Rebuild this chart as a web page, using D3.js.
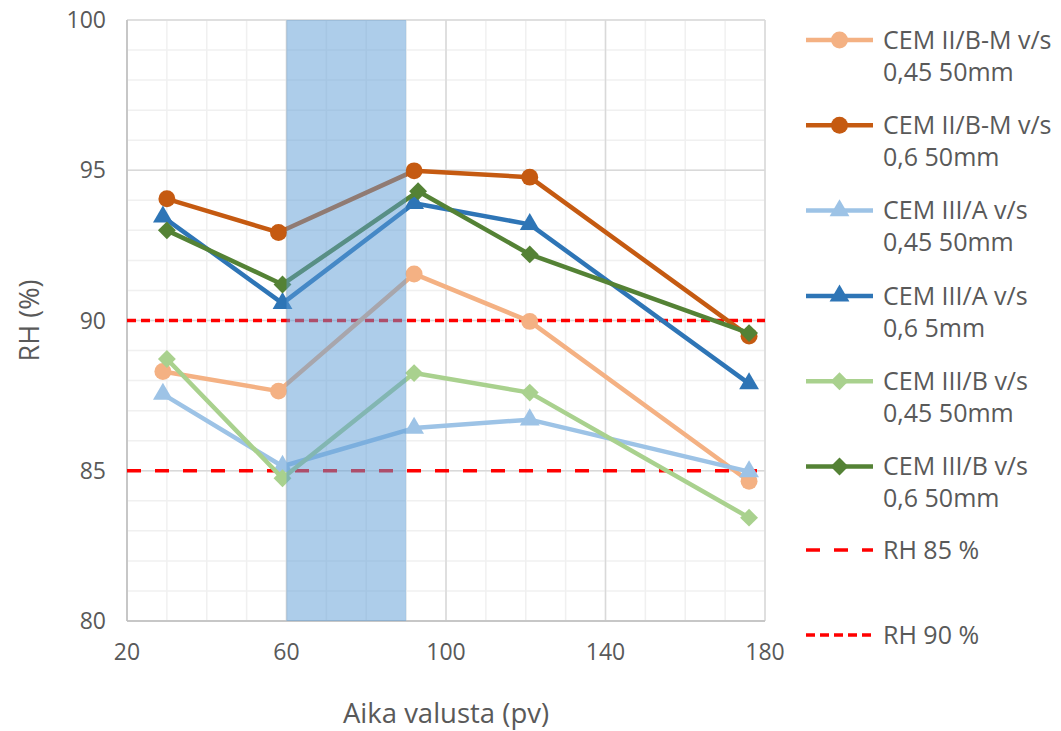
<!DOCTYPE html>
<html>
<head>
<meta charset="utf-8">
<script src="https://cdn.jsdelivr.net/npm/d3@7"></script>
<style>
  body { margin: 0; background: #fff; }
  text { font-family: "Open Sans", "Liberation Sans", sans-serif; fill: #595959; }
</style>
</head>
<body>
<div id="chart"></div>
<script>
// series data
var names = [
    ['CEM II/B-M v/s', '0,45 50mm'],
    ['CEM II/B-M v/s', '0,6 50mm'],
    ['CEM III/A v/s', '0,45 50mm'],
    ['CEM III/A v/s', '0,6 5mm'],
    ['CEM III/B v/s', '0,45 50mm'],
    ['CEM III/B v/s', '0,6 50mm']
]
var xDays = [
    [29, 58, 92, 121, 176],
    [30, 58, 92, 121, 176],
    [29, 59, 92, 121, 176],
    [29, 59, 92, 121, 176],
    [30, 59, 92, 121, 176],
    [30, 59, 93, 121, 176]
]
var rhValues = [
    [88.3, 87.65, 91.55, 89.97, 84.65],
    [94.05, 92.93, 94.98, 94.77, 89.48],
    [87.55, 85.15, 86.42, 86.7, 84.97],
    [93.45, 90.57, 93.9, 93.2, 87.9],
    [88.72, 84.75, 88.25, 87.6, 83.44],
    [93.0, 91.2, 94.3, 92.2, 89.58]
]
var colors = ['#F4B183', '#C55A11', '#9DC3E6', '#2E75B6', '#A9D18E', '#548235']
var shapes = ['circle', 'circle', 'triangle', 'triangle', 'diamond', 'diamond']
var limitLabels = ['RH 85 %', 'RH 90 %']
var limitValues = [85, 90]
var limitDash = ['14,14', '9,5']
var shadeRange = [60, 90]
var xTicks = [20, 60, 100, 140, 180]
var yTicks = [80, 85, 90, 95, 100]

var width = 1061, height = 731
var margin = { left: 127, right: 296, top: 20, bottom: 110 }

var svg = d3.select('#chart').append('svg')
    .attr('width', width)
    .attr('height', height)

var x = d3.scaleLinear().domain([20, 180]).range([margin.left, width - margin.right])
var y = d3.scaleLinear().domain([80, 100]).range([height - margin.bottom, margin.top])

// marker helper, excel style diamonds are rotated squares
function marker(shape) {
    if (shape == 'circle') return d3.symbol().type(d3.symbolCircle).size(225)()
    if (shape == 'triangle') return d3.symbol().type(d3.symbolTriangle).size(170)()
    return d3.symbol().type(d3.symbolSquare).size(160)()
}
function markerRot(shape) {
    return shape == 'diamond' ? ' rotate(45)' : ''
}

// gridlines: minor first, then major
svg.append('g').selectAll('line').data(d3.range(20, 181, 10)).enter().append('line')
    .attr('x1', d => x(d)).attr('x2', d => x(d))
    .attr('y1', y(80)).attr('y2', y(100))
    .attr('stroke', '#f0f0f0').attr('stroke-width', 1.5)
svg.append('g').selectAll('line').data(d3.range(80, 100.5, 1)).enter().append('line')
    .attr('x1', x(20)).attr('x2', x(180))
    .attr('y1', d => y(d)).attr('y2', d => y(d))
    .attr('stroke', '#f0f0f0').attr('stroke-width', 1.5)
svg.append('g').selectAll('line').data(xTicks).enter().append('line')
    .attr('x1', d => x(d)).attr('x2', d => x(d))
    .attr('y1', y(80)).attr('y2', y(100))
    .attr('stroke', '#d9d9d9').attr('stroke-width', 1.5)
svg.append('g').selectAll('line').data(yTicks).enter().append('line')
    .attr('x1', x(20)).attr('x2', x(180))
    .attr('y1', d => y(d)).attr('y2', d => y(d))
    .attr('stroke', '#d9d9d9').attr('stroke-width', 1.5)

// axis lines
svg.append('line').attr('x1', x(20)).attr('x2', x(20)).attr('y1', y(80)).attr('y2', y(100))
    .attr('stroke', '#bfbfbf').attr('stroke-width', 1.5)
svg.append('line').attr('x1', x(20)).attr('x2', x(180)).attr('y1', y(80)).attr('y2', y(80))
    .attr('stroke', '#bfbfbf').attr('stroke-width', 1.5)

// tick labels
svg.append('g').selectAll('text').data(yTicks).enter().append('text')
    .attr('x', margin.left - 21).attr('y', d => y(d))
    .attr('dy', '0.35em').attr('text-anchor', 'end')
    .style('font-size', '23px')
    .text(d => d)
svg.append('g').selectAll('text').data(xTicks).enter().append('text')
    .attr('x', d => x(d)).attr('y', y(80) + 31)
    .attr('dy', '0.35em').attr('text-anchor', 'middle')
    .style('font-size', '23px')
    .text(d => d)

// axis titles
svg.append('text').attr('x', x(100)).attr('y', 713)
    .attr('dy', '0.35em').attr('text-anchor', 'middle')
    .style('font-size', '27.5px').text('Aika valusta (pv)')
svg.append('text').attr('transform', 'translate(30,' + y(90) + ') rotate(-90)')
    .attr('dy', '0.35em').attr('text-anchor', 'middle')
    .style('font-size', '27px').text('RH (%)')

// reference lines
limitValues.forEach(function (v, i) {
    svg.append('line')
        .attr('x1', x(20)).attr('x2', x(180))
        .attr('y1', y(v)).attr('y2', y(v))
        .attr('stroke', '#FF0000').attr('stroke-width', 3.5)
        .attr('stroke-dasharray', limitDash[i])
})

// data series
var line = d3.line().x(d => x(d[0])).y(d => y(d[1]))
names.forEach(function (n, i) {
    var pts = xDays[i].map((d, j) => [d, rhValues[i][j]])
    var g = svg.append('g')
    g.append('path').datum(pts)
        .attr('d', line)
        .attr('fill', 'none')
        .attr('stroke', colors[i])
        .attr('stroke-width', 4.5)
        .attr('stroke-linejoin', 'round')
    g.selectAll('path.m').data(pts).enter().append('path')
        .attr('class', 'm')
        .attr('d', marker(shapes[i]))
        .attr('transform', d => 'translate(' + x(d[0]) + ',' + y(d[1]) + ')' + markerRot(shapes[i]))
        .attr('fill', colors[i])
})

// shaded period on top, semi transparent
svg.append('rect')
    .attr('x', x(shadeRange[0])).attr('width', x(shadeRange[1]) - x(shadeRange[0]))
    .attr('y', y(100)).attr('height', y(80) - y(100))
    .attr('fill', '#5B9BD5').attr('opacity', 0.5)

// legend
var lx = 806, lw = 67, tx = 883
names.forEach(function (n, i) {
    var ly = 40 + i * 85.3
    svg.append('line').attr('x1', lx).attr('x2', lx + lw).attr('y1', ly).attr('y2', ly)
        .attr('stroke', colors[i]).attr('stroke-width', 4.5)
    svg.append('path')
        .attr('d', marker(shapes[i]))
        .attr('transform', 'translate(' + (lx + lw / 2) + ',' + ly + ')' + markerRot(shapes[i]))
        .attr('fill', colors[i])
    svg.append('text').attr('x', tx).attr('y', ly).attr('dy', '0.35em')
        .style('font-size', '25px').text(n[0])
    svg.append('text').attr('x', tx).attr('y', ly + 32).attr('dy', '0.35em')
        .style('font-size', '25px').text(n[1])
})
limitLabels.forEach(function (l, i) {
    var ly = 550 + i * 85
    svg.append('line').attr('x1', lx).attr('x2', lx + lw).attr('y1', ly).attr('y2', ly)
        .attr('stroke', '#FF0000').attr('stroke-width', 3.5)
        .attr('stroke-dasharray', limitDash[i])
    svg.append('text').attr('x', tx).attr('y', ly).attr('dy', '0.35em')
        .style('font-size', '25px').text(l)
})
</script>
</body>
</html>
